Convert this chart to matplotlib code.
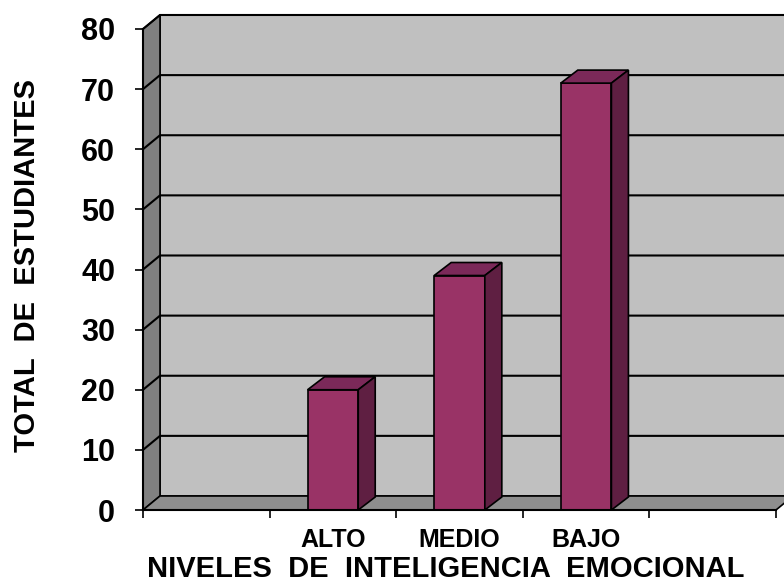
import numpy as np
import matplotlib.pyplot as plt
from matplotlib.patches import Polygon

plt.rcParams['font.family'] = ['Liberation Sans', 'DejaVu Sans']
plt.rcParams['font.weight'] = 'bold'

# data
categories = ["ALTO", "MEDIO", "BAJO"]
values = [20, 39, 71]
yticks = [0, 10, 20, 30, 40, 50, 60, 70, 80]
nslots = 5          # empty slot on each side of the three bars
ymax = 80

WALL = "#C0C0C0"
SIDE = "#808080"
FLOOR = "#8E8E8E"
BAR_FRONT = "#993366"
BAR_TOP = "#7B2959"
BAR_SIDE = "#5F1F42"

fig = plt.figure(figsize=(7.84, 5.83), dpi=100)
ax = fig.add_axes([143/784, 73/583, 633/784, 481/583])
ax.set_xlim(0, nslots)
ax.set_ylim(0, ymax)
ax.patch.set_visible(False)

# depth offset of the 3d look, in data units
ddx = 17.0 / 126.6
ddy = 14.0 / 6.01

def poly(pts, color, z, lw=1.2):
    p = Polygon(pts, closed=True, facecolor=color, edgecolor="black",
                linewidth=lw, clip_on=False, zorder=z)
    ax.add_patch(p)

# back wall, side wall, floor
poly([(ddx, ddy), (nslots + ddx, ddy), (nslots + ddx, ymax + ddy), (ddx, ymax + ddy)], WALL, 1)
poly([(0, 0), (ddx, ddy), (ddx, ymax + ddy), (0, ymax)], SIDE, 1)
poly([(0, 0), (nslots, 0), (nslots + ddx, ddy), (ddx, ddy)], FLOOR, 1)

# gridlines
for y in yticks[1:]:
    ax.plot([0, ddx, nslots + ddx], [y, y + ddy, y + ddy], color="black",
            linewidth=1.5, clip_on=False, zorder=2)

# bars
bw = 0.4
bdx = 17.0 / 126.6
bdy = 13.0 / 6.01
for i, v in enumerate(values):
    c = i + 1.5
    x0, x1 = c - bw / 2, c + bw / 2
    poly([(x0, 0), (x1, 0), (x1, v), (x0, v)], BAR_FRONT, 3)
    poly([(x0, v), (x1, v), (x1 + bdx, v + bdy), (x0 + bdx, v + bdy)], BAR_TOP, 3)
    poly([(x1, 0), (x1 + bdx, bdy), (x1 + bdx, v + bdy), (x1, v)], BAR_SIDE, 3)

# axes
for s in ["top", "right"]:
    ax.spines[s].set_visible(False)
for s in ["left", "bottom"]:
    ax.spines[s].set_linewidth(1.5)
    ax.spines[s].set_zorder(4)

ax.set_yticks(yticks)
ax.set_yticklabels([str(t) for t in yticks], fontsize=22, fontweight="bold")
ax.tick_params(axis="y", length=6, width=1.2, pad=14)

ax.set_xticks(np.arange(nslots + 1))
ax.set_xticklabels([])
ax.tick_params(axis="x", which="major", length=6, width=1.2)
ax.set_xticks(np.arange(1, len(categories) + 1) + 0.5, minor=True)
ax.set_xticklabels(categories, minor=True, fontsize=18, fontweight="bold")
ax.tick_params(axis="x", which="minor", length=0, pad=13)

fig.text(446/784, 6/583, "NIVELES  DE  INTELIGENCIA  EMOCIONAL", ha="center",
         va="baseline", fontsize=21, fontweight="bold")
fig.text(41/784, 1 - 265/583, "TOTAL  DE  ESTUDIANTES", rotation=90, ha="right",
         va="center", fontsize=21, fontweight="bold")

fig.savefig("out.png", dpi=100)
